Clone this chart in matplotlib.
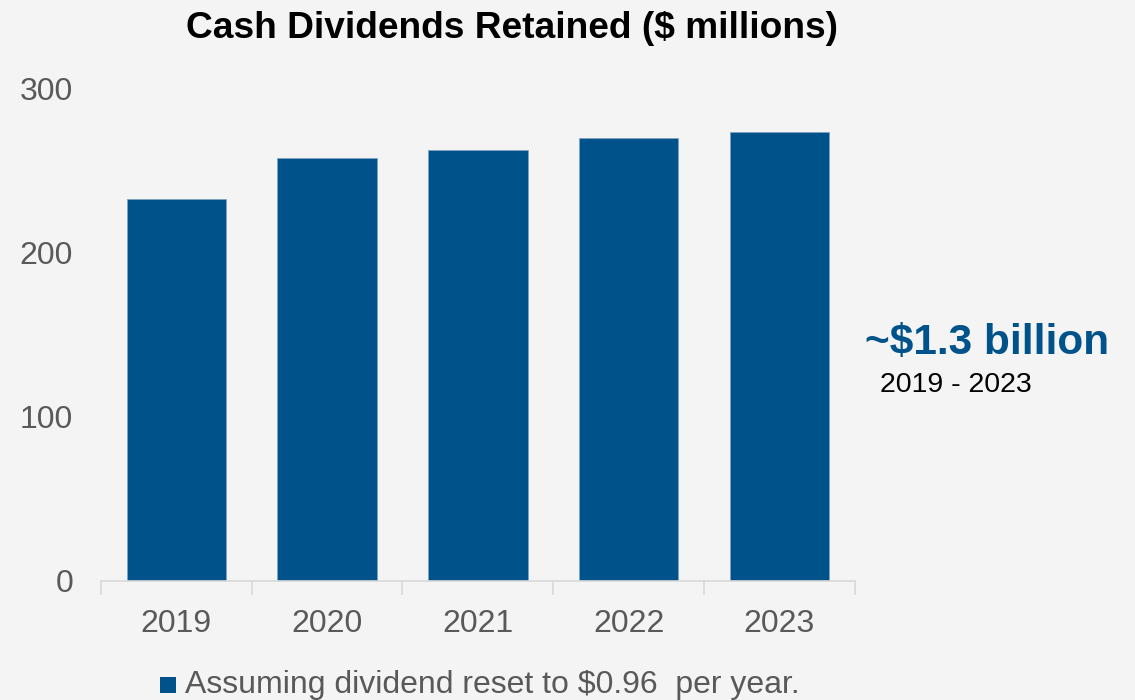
import numpy as np
import matplotlib.pyplot as plt
from matplotlib.patches import Rectangle

plt.rcParams['font.family'] = ['Liberation Sans', 'DejaVu Sans']

years = ['2019', '2020', '2021', '2022', '2023']
retained = [233, 258, 263, 270, 274]
y_ticks = [0, 100, 200, 300]

bar_color = '#00538a'
bg = '#f4f4f4'
grey_text = '#595959'

fig = plt.figure(figsize=(11.35, 7), dpi=100, facecolor=bg)
ax = fig.add_axes([0.089, 0.17, 0.664, 0.703], facecolor=bg)

x = np.arange(len(years))
ax.bar(x, retained, width=0.66, color=bar_color, edgecolor='#7fa3c2', linewidth=0.6)

ax.set_xlim(-0.5, len(years) - 0.5)
ax.set_ylim(0, 300)
ax.set_yticks(y_ticks)
ax.set_yticklabels([str(t) for t in y_ticks], fontsize=23, color=grey_text)
ax.tick_params(axis='y', length=0, pad=20)

# category labels centred, tick marks on category boundaries
ax.set_xticks(x)
ax.set_xticklabels(years, fontsize=23, color=grey_text)
ax.tick_params(axis='x', which='major', length=0, pad=20)
ax.set_xticks(np.arange(-0.5, len(years)), minor=True)
ax.tick_params(axis='x', which='minor', length=10, color='#d9d9d9', width=1.2)

for side in ['left', 'right', 'top']:
    ax.spines[side].set_visible(False)
ax.spines['bottom'].set_color('#d9d9d9')
ax.spines['bottom'].set_linewidth(1.2)

fig.text(0.451, 0.96, 'Cash Dividends Retained ($ millions)', ha='center', va='center',
         fontsize=26.7, fontweight='bold', color='black')

fig.text(0.762, 0.51, '~$1.3 billion', ha='left', va='center',
         fontsize=30.5, fontweight='bold', color=bar_color)
fig.text(0.775, 0.45, '2019 - 2023', ha='left', va='center', fontsize=20.5, color='black')

# legend
fig.patches.append(Rectangle((160 / 1135, 1 - 693 / 700), 16 / 1135, 16 / 700,
                             transform=fig.transFigure, facecolor=bar_color, edgecolor='none'))
fig.text(185 / 1135, 1 - 685 / 700, 'Assuming dividend reset to $0.96  per year.',
         ha='left', va='center', fontsize=23, color=grey_text)

fig.savefig('out.png', dpi=100, facecolor=bg)
